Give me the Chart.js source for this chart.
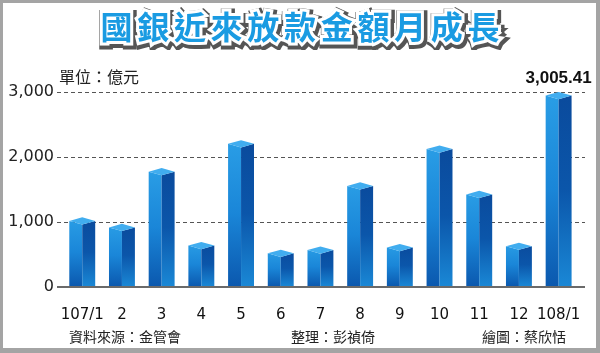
<!DOCTYPE html>
<html>
<head>
<meta charset="utf-8">
<script src="https://cdn.jsdelivr.net/npm/chart.js@4.4.1/dist/chart.umd.min.js"></script>
<style>
  html, body { margin: 0; padding: 0; background: #fff; }
  #wrap { position: relative; width: 600px; height: 353px; overflow: hidden; background: #fff; }
  #c { position: absolute; left: 0; top: 0; }
  .frame { position: absolute; left: 0; top: 0; width: 600px; height: 353px; box-sizing: border-box;
           border-style: solid; border-color: #a4a4a4; border-width: 3px 4px 5px 3px; pointer-events: none; }
  .title { position: absolute; left: 0; top: 9px; width: 600px; text-align: center;
           font-family: "Noto Sans CJK TC", sans-serif; font-weight: 700; font-size: 32px; line-height: 32px;
           letter-spacing: 4.7px; padding-left: 4.7px; box-sizing: border-box; white-space: nowrap; }
  .t0 { color: #555; -webkit-text-stroke: 10px #555; left: 1.5px; top: 10.5px; }
  .t1 { color: #fff; -webkit-text-stroke: 6px #fff; }
  .t2 { color: #1a9be2; }
  .txt { position: absolute; font-family: "Noto Sans CJK TC", sans-serif; color: #222; white-space: nowrap; }
  .unit { left: 59px; top: 68px; font-size: 16px; line-height: 16px; }
  .foot { top: 329px; font-size: 14px; line-height: 14px; }
</style>
</head>
<body>
<div id="wrap">
  <canvas id="c" width="600" height="353"></canvas>
  <div class="title t0" aria-hidden="true">國銀近來放款金額月成長</div>
  <div class="title t1" aria-hidden="true">國銀近來放款金額月成長</div>
  <div class="title t2">國銀近來放款金額月成長</div>
  <div class="txt unit">單位：億元</div>
  <div class="txt foot" style="left:69px">資料來源：金管會</div>
  <div class="txt foot" style="left:291px">整理：彭禎倚</div>
  <div class="txt foot" style="left:482px">繪圖：蔡欣恬</div>
  <div class="frame"></div>
</div>
<script>
const categories = ["107/1", "2", "3", "4", "5", "6", "7", "8", "9", "10", "11", "12", "108/1"];
const loanValues = [1070, 970, 1830, 690, 2260, 570, 620, 1610, 660, 2180, 1480, 680, 3005.41];
const yTicks = [0, 1000, 2000, 3000];
const highlightLabel = "3,005.41";

const deco = {
  id: 'deco',
  beforeDatasetsDraw(chart) {
    const ctx = chart.ctx, y = chart.scales.y;
    ctx.save();
    ctx.strokeStyle = '#555';
    ctx.lineWidth = 1;
    ctx.setLineDash([4, 3]);
    yTicks.forEach(v => {
      if (v === 0) return;
      const py = Math.round(y.getPixelForValue(v)) + 0.5;
      ctx.beginPath(); ctx.moveTo(57, py); ctx.lineTo(585, py); ctx.stroke();
    });
    ctx.restore();
  },
  afterDatasetsDraw(chart) {
    const ctx = chart.ctx;
    const meta = chart.getDatasetMeta(0);
    ctx.save();
    meta.data.forEach((el) => {
      const p = el.getProps(['x', 'y', 'base', 'width'], true);
      const x0 = p.x - p.width / 2, x1 = p.x + p.width / 2, cx = p.x;
      const top = p.y, base = p.base;
      const side = top + 3.6, front = top + 7.2;
      let g = ctx.createLinearGradient(0, top, 0, base);
      g.addColorStop(0, '#2a9ee6'); g.addColorStop(0.5, '#1a86d8'); g.addColorStop(1, '#0b58ae');
      ctx.fillStyle = g;
      ctx.beginPath(); ctx.moveTo(x0, side); ctx.lineTo(cx, front); ctx.lineTo(cx, base); ctx.lineTo(x0, base); ctx.closePath(); ctx.fill();
      g = ctx.createLinearGradient(0, top, 0, base);
      g.addColorStop(0, '#0a4a9c'); g.addColorStop(0.5, '#0b56aa'); g.addColorStop(1, '#1a88d6');
      ctx.fillStyle = g;
      ctx.beginPath(); ctx.moveTo(cx, front); ctx.lineTo(x1, side); ctx.lineTo(x1, base); ctx.lineTo(cx, base); ctx.closePath(); ctx.fill();
      ctx.fillStyle = '#41adef';
      ctx.beginPath(); ctx.moveTo(cx, top); ctx.lineTo(x1, side); ctx.lineTo(cx, front); ctx.lineTo(x0, side); ctx.closePath(); ctx.fill();
    });
    const y0 = Math.round(chart.scales.y.getPixelForValue(0));
    ctx.strokeStyle = '#6a6a6a';
    ctx.lineWidth = 2;
    ctx.beginPath(); ctx.moveTo(57, y0); ctx.lineTo(585, y0); ctx.stroke();
    const last = meta.data[meta.data.length - 1];
    ctx.fillStyle = '#111';
    ctx.font = 'bold 17px "Liberation Sans", Arial, sans-serif';
    ctx.textAlign = 'center';
    ctx.textBaseline = 'middle';
    ctx.fillText(highlightLabel, last.x, last.y - 14);
    ctx.restore();
  }
};

new Chart(document.getElementById('c'), {
  type: 'bar',
  data: {
    labels: categories,
    datasets: [{
      data: loanValues,
      backgroundColor: 'rgba(0,0,0,0)',
      borderWidth: 0,
      categoryPercentage: 1,
      barPercentage: 0.653
    }]
  },
  options: {
    responsive: false,
    animation: false,
    devicePixelRatio: 1,
    layout: { padding: { left: 0, right: 19.8, top: 92.3, bottom: 0 } },
    plugins: { legend: { display: false }, tooltip: { enabled: false }, title: { display: false } },
    scales: {
      x: {
        grid: { display: false, drawTicks: false },
        border: { display: false },
        ticks: { color: '#111', font: { family: '"DejaVu Sans"', size: 15 }, padding: 19, maxRotation: 0, autoSkip: false },
        afterFit(s) { s.height = 66.3; }
      },
      y: {
        min: 0, max: 3000,
        grid: { display: false, drawTicks: false },
        border: { display: false },
        afterBuildTicks(s) { s.ticks = yTicks.map(v => ({ value: v })); },
        ticks: {
          color: '#222', font: { family: '"DejaVu Sans"', size: 16 }, padding: 8.4,
          callback: v => v.toLocaleString('en-US')
        },
        afterFit(s) { s.width = 62.4; }
      }
    }
  },
  plugins: [deco]
});
</script>
</body>
</html>
